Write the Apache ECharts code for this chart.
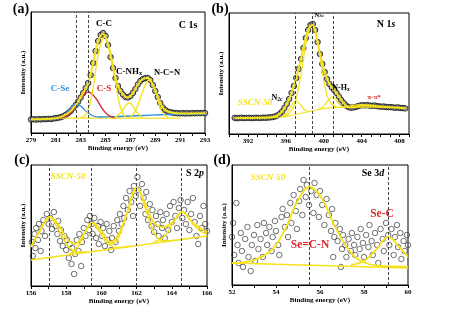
<!DOCTYPE html>
<html>
<head>
<meta charset="utf-8">
<script src="https://cdn.jsdelivr.net/npm/echarts@6/dist/echarts.min.js"></script>
<style>
  html, body { margin: 0; padding: 0; background: #fff; }
  #chart { width: 454px; height: 312px; }
</style>
</head>
<body>
<div id="chart"></div>
<script>
// (a) C 1s
const aMeasured = [
  [279.0, 13.5], [279.2, 13.8], [279.4, 13.4], [279.6, 13.9], [279.8, 13.6], [280.0, 14.0], [280.2, 13.8], [280.4, 14.2],
  [280.6, 14.0], [280.8, 14.5], [281.0, 14.8], [281.2, 15.2], [281.4, 15.8], [281.6, 16.8], [281.8, 18.2], [282.0, 20.0],
  [282.2, 22.0], [282.4, 25.0], [282.6, 28.0], [282.8, 31.5], [283.0, 35.5], [283.2, 40.0], [283.4, 45.0], [283.6, 50.0],
  [283.8, 58.0], [284.0, 70.0], [284.2, 82.0], [284.4, 92.0], [284.6, 98.0], [284.8, 100.0], [285.0, 97.0], [285.2, 88.0],
  [285.4, 76.0], [285.6, 65.0], [285.8, 55.0], [286.0, 47.0], [286.2, 42.0], [286.4, 38.5], [286.6, 36.0], [286.8, 35.5],
  [287.0, 37.0], [287.2, 40.0], [287.4, 44.0], [287.6, 48.5], [287.8, 52.0], [288.0, 54.0], [288.2, 55.0], [288.4, 55.0],
  [288.6, 53.0], [288.8, 48.0], [289.0, 42.0], [289.2, 36.0], [289.4, 30.0], [289.6, 25.5], [289.8, 23.0], [290.0, 21.5],
  [290.2, 20.8], [290.4, 20.3], [290.6, 20.0], [290.8, 19.8], [291.0, 19.6], [291.2, 19.9], [291.4, 19.5], [291.6, 19.8],
  [291.8, 19.6], [292.0, 19.9], [292.2, 19.7], [292.4, 20.0], [292.6, 19.8], [292.8, 20.1], [293.0, 19.9]
]
const aFit = [
  [279, 13.7], [281, 14.8], [282, 20], [282.6, 28], [283.2, 40], [283.6, 50], [284, 70], [284.4, 92], [284.8, 99],
  [285.2, 88], [285.6, 65], [286, 47], [286.4, 38.5], [286.8, 35.5], [287.2, 40], [287.6, 48.5], [288, 54], [288.4, 55],
  [288.8, 48], [289.2, 36], [289.6, 25.5], [290, 21.5], [291, 19.6], [293, 19.8]
]
const aCSe = [[279, 13.7], [281, 14.5], [281.5, 16], [282, 22], [282.4, 28], [282.65, 29], [283, 27], [283.5, 21], [284, 17], [284.5, 16], [286, 16.5], [288, 17.5], [290, 18.5], [293, 19]]
const aCS = [[281.3, 15], [282, 18], [282.5, 25], [283, 35], [283.6, 41], [284.2, 35], [284.7, 25], [285.2, 18], [285.8, 15]]
const aCC = [[283, 15], [283.5, 20], [284, 45], [284.4, 78], [284.9, 96], [285.4, 80], [285.8, 50], [286.2, 25], [286.6, 16]]
const aCNHx = [[285.7, 15], [286.2, 20], [286.9, 30], [287.5, 21], [288, 15]]
const aNCN = [[286.9, 15], [287.4, 22], [288, 42], [288.5, 53], [289, 42], [289.5, 22], [290, 15.5]]
const aBase = [[281, 14.8], [291, 14.8]]
const aDash = [282.65, 283.6]

// (b) N 1s
const bMeasured = [
  [390.6, 16.2], [390.85, 15.8], [391.1, 16.0], [391.35, 16.3], [391.6, 15.9], [391.85, 16.1], [392.1, 16.2], [392.35, 15.9],
  [392.6, 16.0], [392.85, 16.3], [393.1, 16.1], [393.35, 16.0], [393.6, 16.4], [393.85, 16.2], [394.1, 16.5], [394.35, 16.6],
  [394.6, 17.0], [394.85, 17.5], [395.1, 18.5], [395.35, 20.0], [395.6, 22.5], [395.85, 26.0], [396.1, 30.0], [396.35, 35.0],
  [396.6, 41.0], [396.85, 48.0], [397.1, 56.0], [397.35, 65.0], [397.6, 75.0], [397.85, 86.0], [398.1, 96.0], [398.35, 104.0],
  [398.6, 109.0], [398.85, 110.0], [399.1, 104.0], [399.35, 92.0], [399.6, 80.0], [399.85, 70.0], [400.1, 62.0], [400.35, 55.0],
  [400.6, 50.0], [400.85, 46.5], [401.1, 44.0], [401.35, 41.0], [401.6, 37.5], [401.85, 34.0], [402.1, 31.0], [402.35, 28.5],
  [402.6, 27.0], [402.85, 26.3], [403.1, 26.5], [403.35, 27.0], [403.6, 27.8], [403.85, 28.5], [404.1, 28.8], [404.35, 28.6],
  [404.6, 28.9], [404.85, 28.4], [405.1, 28.2], [405.35, 28.5], [405.6, 27.9], [405.85, 27.6], [406.1, 27.3], [406.35, 27.5],
  [406.6, 27.0], [406.85, 26.8], [407.1, 26.9], [407.35, 26.5], [407.6, 26.3], [407.85, 26.6], [408.1, 26.0], [408.35, 25.9],
  [408.6, 25.6]
]
const bFit = [
  [390.6, 16], [394, 16.4], [395, 18], [395.6, 22.5], [396.1, 30], [396.6, 41], [397.1, 56], [397.6, 75], [398.1, 96],
  [398.5, 107], [398.8, 109], [399.1, 103], [399.6, 80], [400.1, 62], [400.6, 50], [401.1, 44], [401.6, 37.5], [402.1, 31],
  [402.6, 27], [403.1, 26.7], [404, 28.6], [405, 28.4], [406, 27.4], [407, 26.8], [408.6, 25.8]
]
const bBack = [[390.6, 16], [394, 16.2], [395.5, 17], [396.5, 18.5], [397.5, 20.5], [398.5, 22.5], [399.5, 24.5], [400.5, 25.8], [401.5, 26.5], [403, 27], [406, 26.8], [408.6, 26.3]]
const bN2c = [[395.5, 17], [396, 20], [396.5, 27], [397, 33], [397.5, 30], [398, 24], [398.5, 22.5]]
const bN3c = [[396, 18], [396.7, 25], [397.2, 40], [397.7, 65], [398.2, 95], [398.75, 108], [399.3, 95], [399.8, 65], [400.3, 40], [400.8, 30], [401.5, 26.5]]
const bNHx = [[399.5, 24.5], [400, 28], [400.5, 34], [400.9, 37], [401.3, 34], [401.8, 28], [402.3, 27]]
const bPi = [[402, 26.7], [403, 28.5], [404, 29.5], [405, 28.5], [406, 27]]
const bDash = [397.0, 398.75, 401.0]

// (c) S 2p
const cMeasured = [
  [156.05, 44], [156.1, 30], [156.2, 52], [156.25, 38], [156.3, 58], [156.4, 46], [156.45, 62], [156.55, 35], [156.6, 55],
  [156.7, 66], [156.8, 50], [156.9, 72], [157.0, 62], [157.1, 68], [157.2, 57], [157.3, 74], [157.4, 60], [157.5, 52],
  [157.55, 65], [157.65, 45], [157.7, 56], [157.8, 40], [157.9, 50], [158.0, 36], [158.05, 46], [158.15, 28], [158.2, 42],
  [158.3, 22], [158.35, 38], [158.45, 12], [158.5, 32], [158.6, 46], [158.7, 35], [158.75, 52], [158.85, 20], [158.9, 44],
  [159.0, 58], [159.1, 50], [159.2, 66], [159.3, 56], [159.35, 70], [159.45, 62], [159.5, 52], [159.6, 68], [159.7, 48],
  [159.8, 60], [159.85, 42], [159.95, 64], [160.05, 50], [160.1, 58], [160.2, 40], [160.3, 62], [160.35, 46], [160.45, 55],
  [160.55, 36], [160.6, 48], [160.7, 60], [160.8, 44], [160.9, 66], [161.0, 55], [161.05, 72], [161.15, 62], [161.25, 80],
  [161.3, 68], [161.4, 88], [161.5, 76], [161.6, 95], [161.7, 84], [161.8, 70], [161.85, 100], [161.95, 90], [162.05, 109],
  [162.1, 96], [162.2, 80], [162.3, 102], [162.4, 88], [162.5, 72], [162.55, 94], [162.65, 66], [162.75, 82], [162.85, 60],
  [162.9, 76], [163.0, 54], [163.1, 70], [163.2, 62], [163.25, 50], [163.35, 74], [163.45, 58], [163.5, 66], [163.6, 48],
  [163.7, 72], [163.8, 56], [163.9, 80], [164.0, 64], [164.1, 84], [164.2, 70], [164.3, 58], [164.4, 78], [164.5, 86],
  [164.6, 68], [164.7, 76], [164.8, 62], [164.9, 84], [165.0, 56], [165.1, 72], [165.2, 88], [165.3, 64], [165.4, 50],
  [165.5, 42], [165.6, 70], [165.7, 58], [165.8, 80], [165.9, 62], [166.0, 55]
]
const cFit = [
  [156, 39], [156.5, 55], [157.1, 69], [157.6, 60], [158, 48], [158.5, 42], [159, 52], [159.5, 63], [160, 55], [160.5, 44],
  [161, 52], [161.5, 75], [162, 98], [162.5, 82], [163, 63], [163.5, 59], [164, 63], [164.6, 74], [165.2, 63], [166, 54]
]
const cBase = [[156, 26], [166, 50]]
const cPeak1 = [[156, 39], [156.5, 55], [157.05, 69], [157.6, 55], [158.1, 40], [158.6, 34], [159.2, 34]]
const cPeak2 = [[158.2, 32], [158.7, 40], [159.1, 55], [159.45, 63], [159.9, 54], [160.4, 42], [161, 38.5], [161.6, 39.8]]
const cPeak3 = [[160.4, 41], [160.9, 46], [161.4, 70], [162, 98], [162.6, 72], [163.1, 50], [163.6, 45], [164.2, 46]]
const cPeak4 = [[163, 44], [163.6, 50], [164.1, 64], [164.6, 74], [165.2, 62], [165.6, 55], [166, 52]]
const cDash = [157.05, 159.45, 162.0, 164.55]

// (d) Se 3d
const dMeasured = [
  [52.0, 48], [52.05, 62], [52.1, 30], [52.2, 82], [52.25, 40], [52.3, 22], [52.4, 52], [52.45, 34], [52.5, 18], [52.6, 46],
  [52.7, 58], [52.75, 28], [52.85, 14], [52.9, 40], [53.0, 50], [53.05, 24], [53.15, 60], [53.2, 36], [53.3, 46], [53.4, 28],
  [53.45, 62], [53.55, 52], [53.6, 40], [53.7, 58], [53.8, 34], [53.85, 48], [53.95, 64], [54.0, 54], [54.1, 40], [54.15, 30],
  [54.25, 68], [54.3, 76], [54.4, 58], [54.5, 70], [54.55, 48], [54.65, 82], [54.7, 62], [54.8, 90], [54.9, 74], [54.95, 56],
  [55.05, 84], [55.1, 96], [55.2, 70], [55.25, 105], [55.35, 88], [55.4, 100], [55.5, 80], [55.6, 94], [55.7, 72], [55.75, 102],
  [55.85, 90], [55.95, 68], [56.0, 94], [56.1, 80], [56.2, 60], [56.3, 86], [56.4, 70], [56.5, 54], [56.55, 76], [56.6, 28],
  [56.65, 48], [56.7, 62], [56.8, 44], [56.9, 56], [56.95, 18], [57.0, 36], [57.05, 50], [57.15, 40], [57.2, 28], [57.3, 46],
  [57.4, 34], [57.45, 52], [57.55, 40], [57.6, 30], [57.7, 48], [57.8, 36], [57.85, 56], [57.95, 42], [58.0, 28], [58.1, 50],
  [58.2, 38], [58.25, 60], [58.35, 44], [58.4, 30], [58.5, 52], [58.6, 40], [58.65, 22], [58.75, 56], [58.85, 46], [58.9, 34],
  [59.0, 62], [59.1, 50], [59.15, 40], [59.25, 56], [59.35, 30], [59.4, 48], [59.5, 60], [59.55, 38], [59.65, 52], [59.7, 26],
  [59.8, 44], [59.85, 34], [59.95, 50], [60.0, 40]
]
const dBase = [[52, 22], [60, 17]]
const dPeak1 = [[52, 22], [53, 25], [53.8, 35], [54.4, 55], [55, 85], [55.53, 98], [56.1, 86], [56.6, 62], [57.1, 42], [57.6, 28], [58.2, 21], [58.8, 19], [59.4, 18.5], [60, 18]]
const dPeak2 = [[57.4, 20], [58, 24], [58.5, 34], [59.12, 48], [59.6, 38], [60, 28]]
const dDash = [55.53, 59.12]

const SERIF = "'Liberation Serif', 'Times New Roman', serif"
const YELLOW = '#f5e21a'
const RED = '#d9262b'
const BLUE = '#2e8fe0'

const grids = [
  { left: 31, top: 12, width: 174, height: 121 },
  { left: 229, top: 13, width: 180, height: 121 },
  { left: 31, top: 165, width: 176, height: 121 },
  { left: 232, top: 165, width: 176, height: 120 },
]

const makeX = (idx, min, max, labelFn) => ({
  gridIndex: idx,
  type: 'value',
  min: min,
  max: max,
  interval: 1,
  name: 'Binding energy (eV)',
  nameLocation: 'middle',
  nameGap: 12,
  nameTextStyle: { fontFamily: SERIF, fontWeight: 'bold', fontSize: 7, color: '#000' },
  axisLine: { show: true, onZero: false, lineStyle: { color: '#000', width: 1 } },
  axisTick: { show: true, inside: false, length: 3, lineStyle: { color: '#000' } },
  axisLabel: { fontFamily: SERIF, fontWeight: 'bold', fontSize: 7, color: '#000', margin: 4, formatter: labelFn },
  splitLine: { show: false },
})

const makeY = (idx, max) => ({
  gridIndex: idx,
  type: 'value',
  min: 0,
  max: max,
  name: 'Intensity (a.u.)',
  nameLocation: 'middle',
  nameGap: 4,
  nameTextStyle: { fontFamily: SERIF, fontWeight: 'bold', fontSize: 7, color: '#000' },
  axisLine: { show: true, lineStyle: { color: '#000', width: 1 } },
  axisTick: { show: false },
  axisLabel: { show: false },
  splitLine: { show: false },
})

const curve = (idx, data, color, width, z) => ({
  type: 'line',
  xAxisIndex: idx,
  yAxisIndex: idx,
  data: data,
  smooth: 0.4,
  showSymbol: false,
  silent: true,
  z: z || 3,
  lineStyle: { color: color, width: width },
})

const dashes = (idx, values) => ({
  type: 'line',
  xAxisIndex: idx,
  yAxisIndex: idx,
  data: [],
  z: 6,
  markLine: {
    silent: true,
    symbol: 'none',
    label: { show: false },
    lineStyle: { type: [3, 2], color: '#444', width: 1 },
    data: values.map(v => ({ xAxis: v })),
  },
})

const dense = (idx, data) => ({
  type: 'scatter',
  xAxisIndex: idx,
  yAxisIndex: idx,
  data: data,
  symbol: 'circle',
  symbolSize: 5.5,
  silent: true,
  z: 2,
  itemStyle: { color: '#9a9a9a', borderColor: '#111', borderWidth: 1 },
})

const sparse = (idx, data) => ({
  type: 'scatter',
  xAxisIndex: idx,
  yAxisIndex: idx,
  data: data,
  symbol: 'circle',
  symbolSize: 5.5,
  silent: true,
  z: 2,
  itemStyle: { color: 'rgba(255,255,255,0)', borderColor: '#3a3a3a', borderWidth: 0.9 },
})

const txt = (x, y, text, size, color, italic) => ({
  type: 'text',
  x: x,
  y: y,
  silent: true,
  z: 20,
  style: {
    text: text,
    fill: color || '#000',
    font: (italic ? 'italic ' : '') + 'bold ' + size + 'px ' + SERIF,
    align: 'center',
    verticalAlign: 'middle',
  },
})

const richTxt = (x, y, text, size, color) => ({
  type: 'text',
  x: x,
  y: y,
  silent: true,
  z: 20,
  style: {
    text: text,
    fill: color,
    align: 'center',
    verticalAlign: 'middle',
    rich: {
      n: { fontFamily: SERIF, fontWeight: 'bold', fontSize: size, fill: color },
      i: { fontFamily: SERIF, fontWeight: 'bold', fontStyle: 'italic', fontSize: size, fill: color },
      s: { fontFamily: SERIF, fontWeight: 'bold', fontSize: size * 0.7, fill: color, padding: [size * 0.35, 0, 0, 0] },
    },
  },
})

const option = {
  backgroundColor: '#fff',
  animation: false,
  grid: grids.map(g => Object.assign({ show: true, borderColor: '#000', borderWidth: 1, backgroundColor: 'transparent' }, g)),
  xAxis: [
    makeX(0, 279, 293, v => (v % 2 === 1 ? String(v) : '')),
    makeX(1, 390, 409, v => ((v - 392) % 4 === 0 && v >= 392 && v <= 408 ? String(v) : '')),
    makeX(2, 156, 166, v => (v % 2 === 0 ? String(v) : '')),
    makeX(3, 52, 60, v => (v % 2 === 0 ? String(v) : '')),
  ],
  yAxis: [makeY(0, 121), makeY(1, 121), makeY(2, 121), makeY(3, 120)],
  series: [
    // (a)
    dense(0, aMeasured),
    curve(0, aBase, YELLOW, 1.2),
    curve(0, aCSe, BLUE, 1.3),
    curve(0, aCS, RED, 1.3),
    curve(0, aCC, YELLOW, 1.3),
    curve(0, aCNHx, YELLOW, 1.3),
    curve(0, aNCN, YELLOW, 1.3),
    curve(0, aFit, YELLOW, 2, 4),
    dashes(0, aDash),
    // (b)
    dense(1, bMeasured),
    curve(1, bBack, YELLOW, 1.2),
    curve(1, bN2c, YELLOW, 1.2),
    curve(1, bN3c, YELLOW, 1.2),
    curve(1, bNHx, YELLOW, 1.2),
    curve(1, bPi, YELLOW, 1.2),
    curve(1, bFit, YELLOW, 2, 4),
    dashes(1, bDash),
    // (c)
    sparse(2, cMeasured),
    curve(2, cBase, YELLOW, 1.5),
    curve(2, cPeak1, YELLOW, 1.5),
    curve(2, cPeak2, YELLOW, 1.5),
    curve(2, cPeak3, YELLOW, 1.5),
    curve(2, cPeak4, YELLOW, 1.5),
    curve(2, cFit, YELLOW, 1.8, 4),
    dashes(2, cDash),
    // (d)
    sparse(3, dMeasured),
    curve(3, dBase, YELLOW, 1.5),
    curve(3, dPeak1, YELLOW, 1.8),
    curve(3, dPeak2, YELLOW, 1.8),
    dashes(3, dDash),
  ],
  graphic: [
    txt(21, 9, '(a)', 14),
    txt(220, 9, '(b)', 14),
    txt(22, 160, '(c)', 14),
    txt(222, 160, '(d)', 14),
    // (a)
    txt(188, 25, 'C 1s', 10),
    txt(104, 24, 'C-C', 9),
    richTxt(129, 72, '{n|C-NH}{s|x}', 9, '#000'),
    txt(167, 73, 'N-C=N', 8.5),
    txt(60, 89, 'C-Se', 9, BLUE),
    txt(104, 89, 'C-S', 9, RED),
    // (b)
    richTxt(386, 24, '{n|N 1}{i|s}', 10, '#000'),
    richTxt(319, 15, '{n|N}{s|3c}', 7, '#000'),
    richTxt(277, 98, '{n|N}{s|2c}', 8, '#000'),
    richTxt(341, 88, '{n|N-H}{s|x}', 8, '#000'),
    txt(374, 97, 'π-π*', 7, RED),
    txt(255, 103, 'SSCN-50', 9, YELLOW, true),
    // (c)
    richTxt(195, 173, '{n|S 2}{i|p}', 10, '#000'),
    txt(68, 177, 'SSCN-50', 9, YELLOW, true),
    // (d)
    richTxt(373, 173, '{n|Se 3}{i|d}', 10, '#000'),
    txt(268, 178, 'SSCN-50', 9, YELLOW, true),
    txt(382, 214, 'Se-C', 11.5, RED),
    txt(310, 245, 'Se=C-N', 11.5, RED),
  ],
}

const myChart = echarts.init(document.getElementById('chart'), null, { renderer: 'canvas' })
myChart.setOption(option)
</script>
</body>
</html>
